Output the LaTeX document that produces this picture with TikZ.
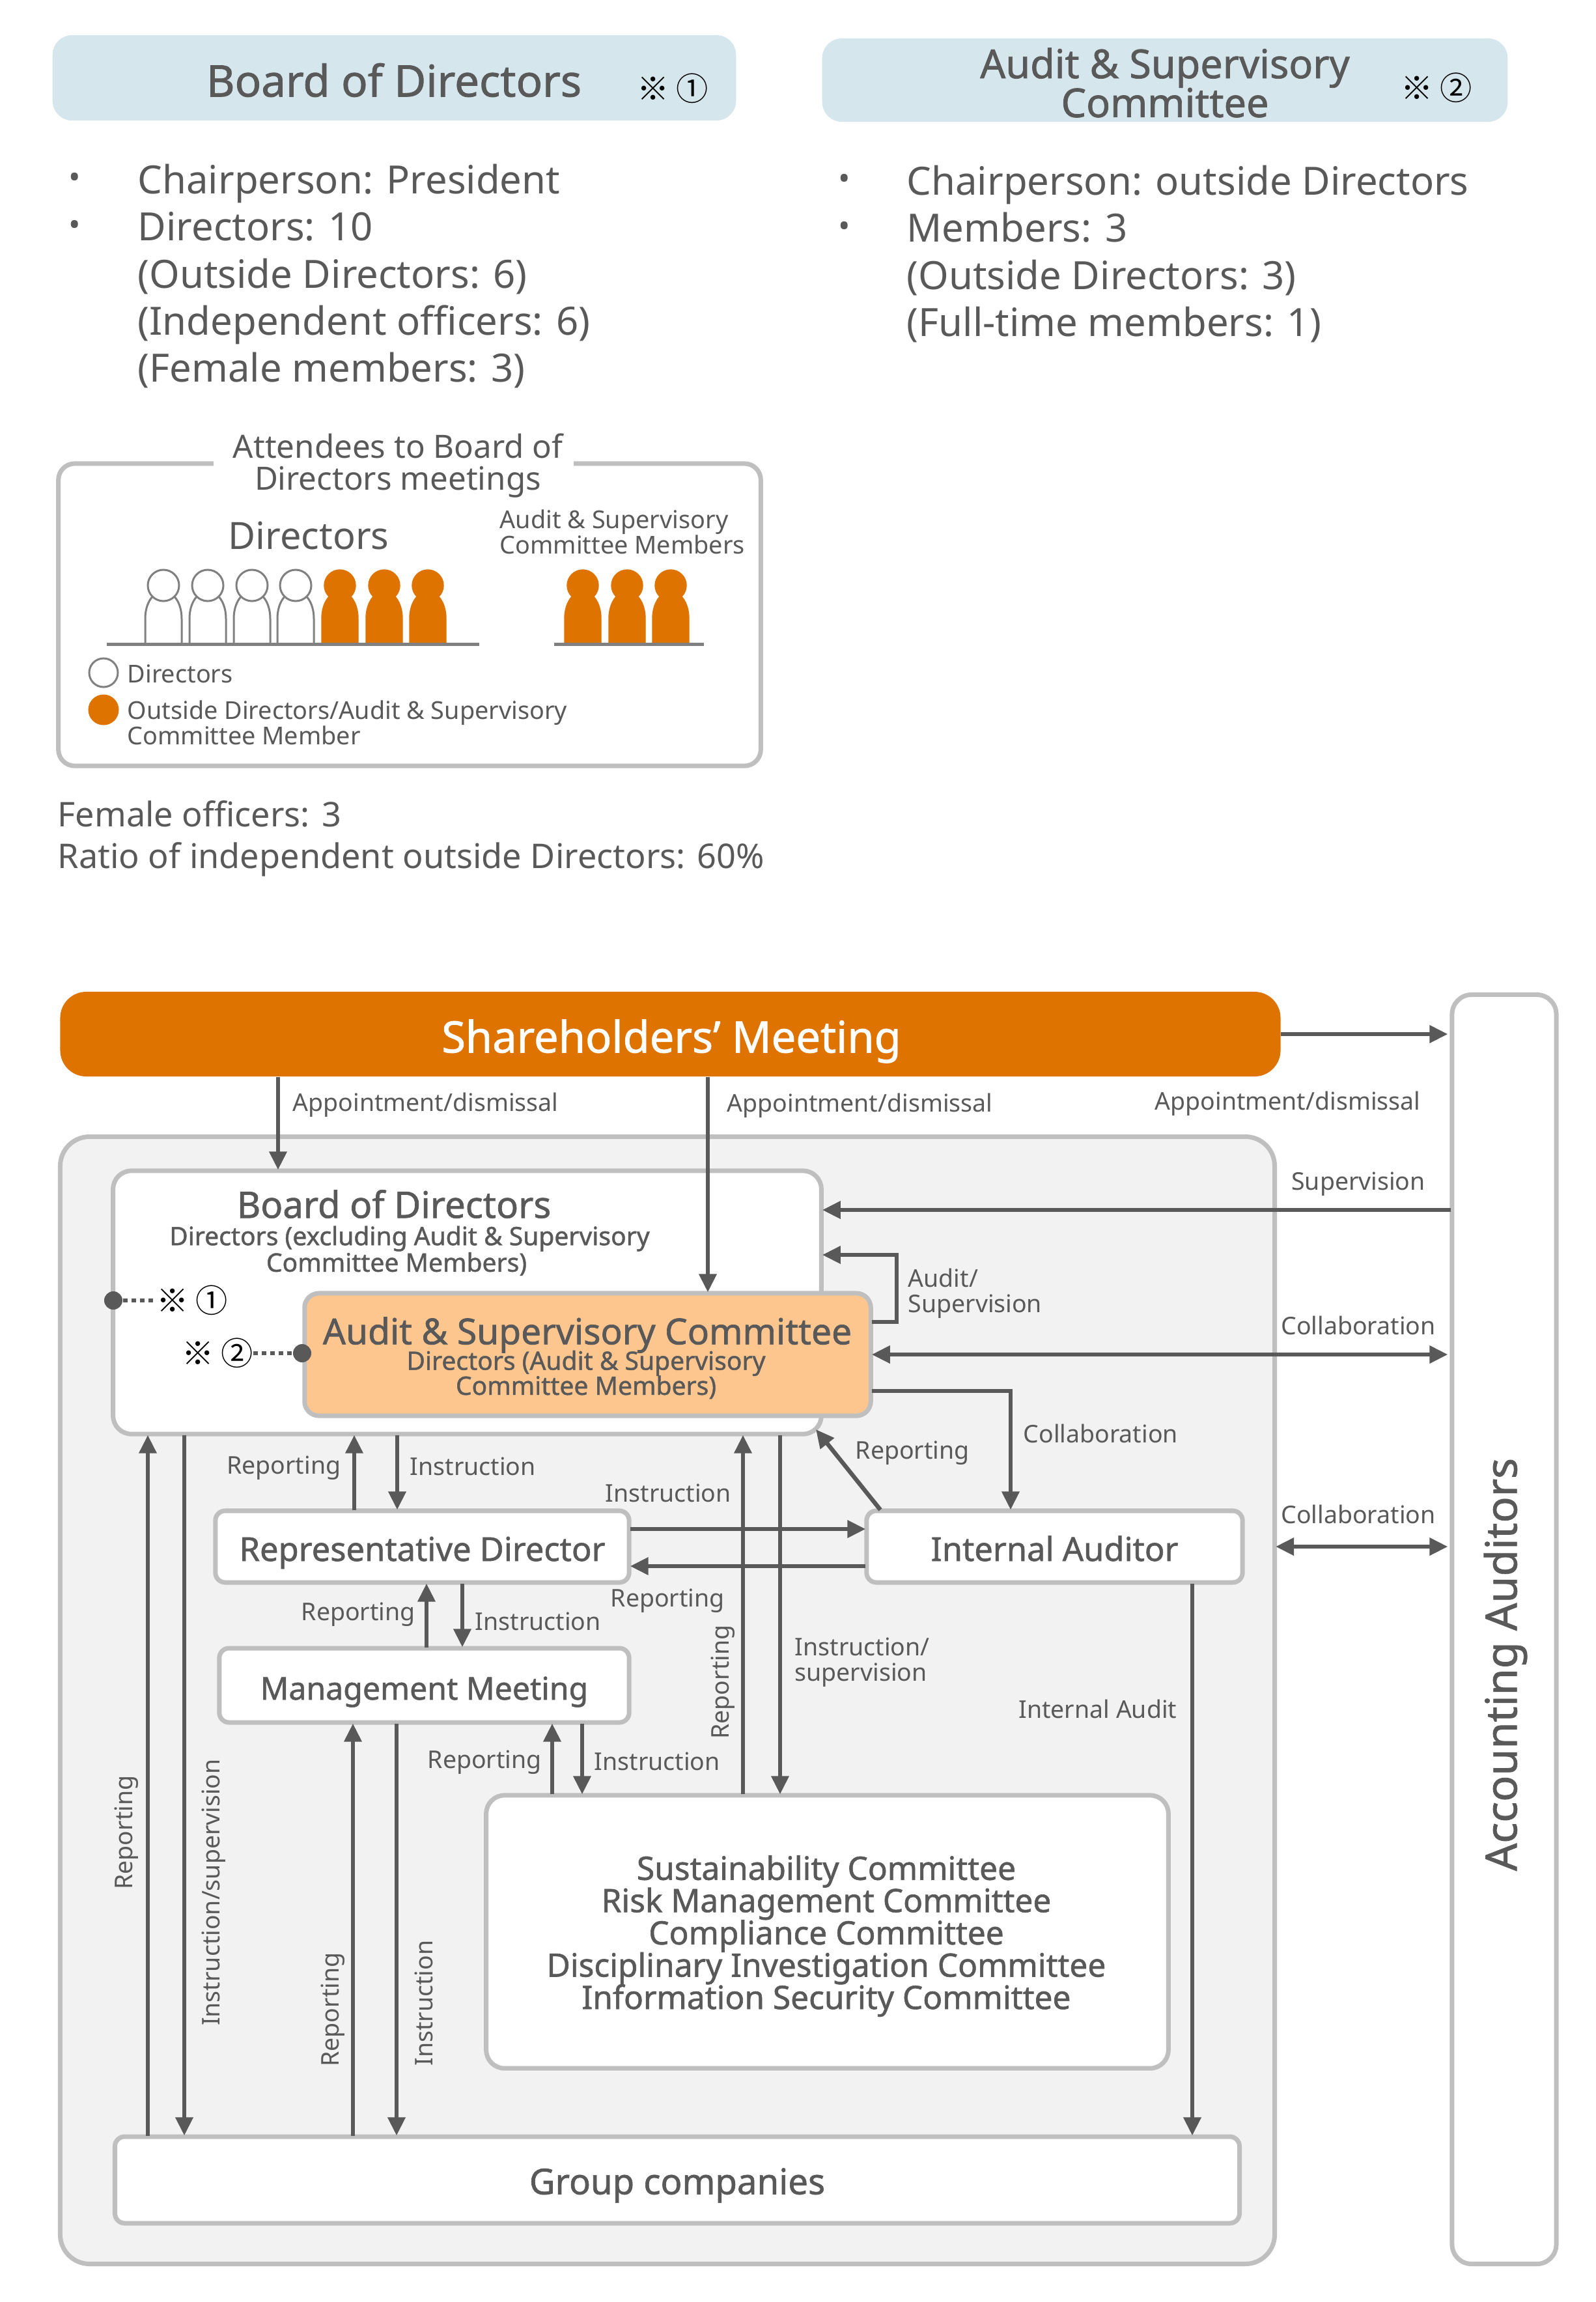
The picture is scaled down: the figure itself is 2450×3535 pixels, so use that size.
\documentclass[tikz,border=0pt]{standalone}
\usepackage{fontspec}
\setmainfont{Noto Sans}
\newfontfamily\medfont[FakeBold=1.2]{Noto Sans}
\newfontfamily\cjkfont{Noto Sans CJK JP}
\usetikzlibrary{arrows.meta,shapes}
\lineskiplimit=-20pt

\definecolor{txtgray}{HTML}{595959}
\definecolor{framegray}{HTML}{BFBFBF}
\definecolor{ppl}{HTML}{808080}
\definecolor{orng}{HTML}{DF7300}
\definecolor{pale}{HTML}{FDC68F}
\definecolor{hdrblue}{HTML}{D5E6EC}
\definecolor{panel}{HTML}{F2F2F2}

\newcommand{\person}[3]{
  \draw[#3] (#1-28,#2) -- (#1-28,950) .. controls (#1-28,925) and (#1-15,908) .. (#1,908)
    .. controls (#1+15,908) and (#1+28,925) .. (#1+28,950) -- (#1+28,#2);
  \draw[#3] (#1,899) circle (0.24cm);
}

\tikzset{
  box/.style={draw=framegray, line width=0.07cm, fill=white, rounded corners=0.28cm, inner sep=0pt, outer sep=0.015cm, align=center, text=txtgray},
  hdr/.style={fill=hdrblue, rounded corners=0.3cm, inner sep=0pt},
  title/.style={text=txtgray, inner sep=0pt, align=center, font=\medfont\fontsize{16}{17}\selectfont},
  listtxt/.style={text=txtgray, inner sep=0pt, align=left, font=\fontsize{17}{20.6}\selectfont},
  bullet/.style={text=txtgray, inner sep=0pt, font=\fontsize{14}{14}\selectfont},
  mid/.style={text=txtgray, inner sep=0pt, align=center, font=\fontsize{14}{14}\selectfont},
  small/.style={text=txtgray, inner sep=0pt, align=left, font=\fontsize{10.75}{11}\selectfont},
  lbl/.style={text=txtgray, inner sep=0pt, align=left, font=\fontsize{10.65}{11}\selectfont},
  sub/.style={text=txtgray, inner sep=0pt, align=center, font=\medfont\fontsize{11.1}{10.9}\selectfont},
  boxname/.style={rounded corners=0.15cm, text height=0.44cm, text depth=0pt, font=\medfont\fontsize{14.4}{14}\selectfont},
  note/.style={inner sep=0pt, font=\cjkfont\fontsize{14}{14}\selectfont},
  flow/.style={draw=txtgray, line width=0.065cm},
  dotline/.style={draw=txtgray, line width=0.06cm, dash pattern=on 0.07cm off 0.06cm},
  dotmark/.style={circle, fill=txtgray, inner sep=0pt, minimum size=0.28cm},
}

\begin{document}
\begin{tikzpicture}[x=0.01cm, y=-0.01cm, >={Triangle[length=0.28cm,width=0.26cm]}]
\useasboundingbox (0,0) rectangle (2450,3535);

% upper part
\node[hdr, minimum width=10.49cm, minimum height=1.31cm] (hdrA) at (605.5,119.5) {};
\node[hdr, minimum width=10.52cm, minimum height=1.28cm] (hdrB) at (1789,123) {};
\node[title, font=\medfont\fontsize{19.1}{19}\selectfont] (hdrAtxt) at (605,123) {Board of Directors};
\node[title, font=\medfont\fontsize{17.4}{17}\selectfont] (hdrBtxt) at (1789,127) {Audit \& Supervisory\\Committee};
\node[note] (hdrAnote) at (1033,136) {※ ①};
\node[note] (hdrBnote) at (2206,135) {※ ②};

\node[bullet] (bulA1) at (115,277) {•};
\node[bullet] (bulA2) at (115,350) {•};
\node[listtxt, anchor=west] (listA) at (211,424) {Chairperson: President\\Directors: 10\\(Outside Directors: 6)\\(Independent officers: 6)\\(Female members: 3)};
\node[bullet] (bulB1) at (1297,279) {•};
\node[bullet] (bulB2) at (1297,352) {•};
\node[listtxt, anchor=west] (listB) at (1392,390) {Chairperson: outside Directors\\Members: 3\\(Outside Directors: 3)\\(Full-time members: 1)};

\node[box, rounded corners=0.25cm, minimum width=10.78cm, minimum height=4.64cm] (frame) at (629,944) {};
\node[fill=white, inner sep=0pt, minimum width=5.53cm, minimum height=1cm] (gap) at (604.5,710) {};
\node[mid] (attend) at (611,715) {Attendees to Board of\\Directors meetings};
\node[mid, font=\fontsize{16.4}{16}\selectfont] (dirlabel) at (474,823) {Directors};
\node[small, anchor=west] (acmlabel) at (767,817) {Audit \& Supervisory\\Committee Members};

\foreach \px in {251,319,387,454} {\person{\px}{987}{ppl, line width=0.03cm, fill=white}}
\foreach \px in {522,590,657,895,963,1030} {\person{\px}{987}{orng, fill=orng}}
\draw[ppl, line width=0.05cm] (164,989.5) -- (736,989.5);
\draw[ppl, line width=0.05cm] (851,989.5) -- (1081,989.5);

\node[circle, draw=ppl, line width=0.03cm, fill=white, inner sep=0pt, minimum size=0.44cm] (legA) at (159,1033) {};
\node[circle, fill=orng, inner sep=0pt, minimum size=0.47cm] (legB) at (159,1090) {};
\node[small, anchor=west] (legAtxt) at (195,1035) {Directors};
\node[small, anchor=west] (legBtxt) at (195,1110) {Outside Directors/Audit \& Supervisory\\Committee Member};

\node[mid, anchor=west, align=left, font=\fontsize{14.85}{18.2}\selectfont] (ratio) at (88,1288) {Female officers: 3\\Ratio of independent outside Directors: 60\%};

% lower part
\node[box, fill=panel, rounded corners=0.45cm, minimum width=18.64cm, minimum height=17.30cm] (outer) at (1025,2611) {};
\node[box, rounded corners=0.3cm, minimum width=1.6cm, minimum height=19.48cm] (auditors) at (2310,2502) {};
\node[hdr, fill=orng, rounded corners=0.4cm, minimum width=18.73cm, minimum height=1.30cm] (share) at (1029.5,1588) {};
\node[title, text=white, font=\medfont\fontsize{19}{20}\selectfont] (sharetxt) at (1031,1599) {Shareholders’ Meeting};
\node[title, rotate=90, font=\medfont\fontsize{18.9}{18}\selectfont] (audtxt) at (2312,2556) {Accounting Auditors};

\node[box, minimum width=10.87cm, minimum height=4.04cm] (board) at (717.5,2000) {};
\node[box, fill=pale, rounded corners=0.22cm, minimum width=8.69cm, minimum height=1.88cm] (audit) at (902.5,2080) {};
\node[box, boxname, minimum width=6.35cm, minimum height=1.10cm] (repdir) at (648.5,2375) {Representative Director};
\node[box, boxname, minimum width=5.77cm, minimum height=1.10cm] (internal) at (1619.5,2375) {Internal Auditor};
\node[box, boxname, font=\medfont\fontsize{13.7}{14}\selectfont, minimum width=6.29cm, minimum height=1.14cm] (mgmt) at (651.5,2588) {Management Meeting};
\node[box, minimum width=10.47cm, minimum height=4.19cm] (comm) at (1270.5,2966.5) {};
\node[box, boxname, font=\medfont\fontsize{15.5}{14}\selectfont, minimum width=17.26cm, minimum height=1.33cm] (group) at (1040,3347.5) {Group companies};

\node[title] (boardtxt) at (605,1849) {Board of Directors};
\node[sub] (boardsub) at (629,1902) {Directors (excluding Audit \& Supervisory};
\node[sub] (boardsubB) at (609,1941) {Committee Members)};
\node[title, font=\medfont\fontsize{15.66}{16}\selectfont] (audittxt) at (902,2050) {Audit \& Supervisory Committee};
\node[sub] (auditsub) at (900,2111) {Directors (Audit \& Supervisory\\Committee Members)};
\node[title, font=\medfont\fontsize{14.1}{14.1}\selectfont] (commtxt) at (1269,2973) {Sustainability Committee\\Risk Management Committee\\Compliance Committee\\Disciplinary Investigation Committee\\Information Security Committee};

\node[note] (noteA) at (295,1997) {※ ①};
\node[note] (noteB) at (334,2078) {※ ②};
\node[dotmark] (dotA) at (174,1997) {};
\node[dotmark] (dotB) at (464,2078) {};
\draw[dotline] (dotA) -- (noteA);
\draw[dotline] (noteB) -- (dotB);

% connectors
\draw[flow,->] (427,0 |- share.south) -- (427,0 |- board.north);
\draw[flow,->] (1087,0 |- share.south) -- (1087,0 |- audit.north);
\draw[flow,->,shorten >=0.05cm] (share.east) -- (auditors.west |- share.east);
\draw[flow,->] (auditors.west |- 0,1858) -- (board.east |- 0,1858);
\draw[flow,->] (audit.east |- 0,2030) -- (1377,2030) -- (1377,1927) -- (board.east |- 0,1927);
\draw[flow,<->,shorten >=0.05cm] (audit.east) -- (auditors.west |- audit.east);
\draw[flow,->] (audit.east |- 0,2136) -- (1552,2136) -- (1552,0 |- internal.north);
\draw[flow,->] (1352,0 |- internal.north) -- (1253,2195);
\draw[flow,<->,shorten >=0.05cm] (outer.east |- internal.east) -- (auditors.west |- internal.east);
\draw[flow,->] (repdir.east |- 0,2348) -- (internal.west |- 0,2348);
\draw[flow,->] (internal.west |- 0,2405) -- (repdir.east |- 0,2405);
\draw[flow,->] (544,0 |- repdir.north) -- (544,0 |- board.south);
\draw[flow,->] (610,0 |- board.south) -- (610,0 |- repdir.north);
\draw[flow,->] (655,0 |- mgmt.north) -- (655,0 |- repdir.south);
\draw[flow,->] (710,0 |- repdir.south) -- (710,0 |- mgmt.north);
\draw[flow,->] (848,0 |- comm.north) -- (848,0 |- mgmt.south);
\draw[flow,->] (894,0 |- mgmt.south) -- (894,0 |- comm.north);
\draw[flow,->] (1141,0 |- comm.north) -- (1141,0 |- board.south);
\draw[flow,->] (1198,0 |- board.south) -- (1198,0 |- comm.north);
\draw[flow,->] (1831,0 |- internal.south) -- (1831,0 |- group.north);
\draw[flow,->] (227,0 |- group.north) -- (227,0 |- board.south);
\draw[flow,->] (283,0 |- board.south) -- (283,0 |- group.north);
\draw[flow,->] (542,0 |- group.north) -- (542,0 |- mgmt.south);
\draw[flow,->] (609,0 |- mgmt.south) -- (609,0 |- group.north);

% labels
\node[lbl, anchor=west] (lblA) at (449,1697) {Appointment/dismissal};
\node[lbl, anchor=west] (lblB) at (1116,1698) {Appointment/dismissal};
\node[lbl, anchor=west] (lblC) at (1773,1695) {Appointment/dismissal};
\node[lbl] (lblSup) at (2086,1818) {Supervision};
\node[lbl, anchor=west] (lblAudit) at (1394,1986) {Audit/\\Supervision};
\node[lbl] (lblColA) at (2086,2035) {Collaboration};
\node[lbl, anchor=west] (lblColB) at (1571,2201) {Collaboration};
\node[lbl] (lblColC) at (2086,2325) {Collaboration};
\node[lbl, anchor=west] (lblRepD) at (1313,2231) {Reporting};
\node[lbl, anchor=east] (lblRepA) at (524,2254) {Reporting};
\node[lbl, anchor=west] (lblInsA) at (629,2252) {Instruction};
\node[lbl, anchor=west] (lblInsB) at (929,2293) {Instruction};
\node[lbl, anchor=west] (lblRepB) at (937,2458) {Reporting};
\node[lbl, anchor=west] (lblRepC) at (462,2479) {Reporting};
\node[lbl, anchor=west] (lblInsC) at (729,2490) {Instruction};
\node[lbl, anchor=west] (lblRepE) at (656,2706) {Reporting};
\node[lbl, anchor=west] (lblInsD) at (912,2705) {Instruction};
\node[lbl, anchor=west] (lblInsSup) at (1220,2553) {Instruction/\\supervision};
\node[lbl, anchor=east] (lblIntAud) at (1808,2624) {Internal Audit};
\node[lbl, rotate=90] (rotA) at (1110,2583) {Reporting};
\node[lbl, rotate=90] (rotB) at (194,2814) {Reporting};
\node[lbl, rotate=90] (rotC) at (328,2906) {Instruction/supervision};
\node[lbl, rotate=90] (rotD) at (511,3086) {Reporting};
\node[lbl, rotate=90] (rotE) at (651,3076) {Instruction};

\end{tikzpicture}
\end{document}
